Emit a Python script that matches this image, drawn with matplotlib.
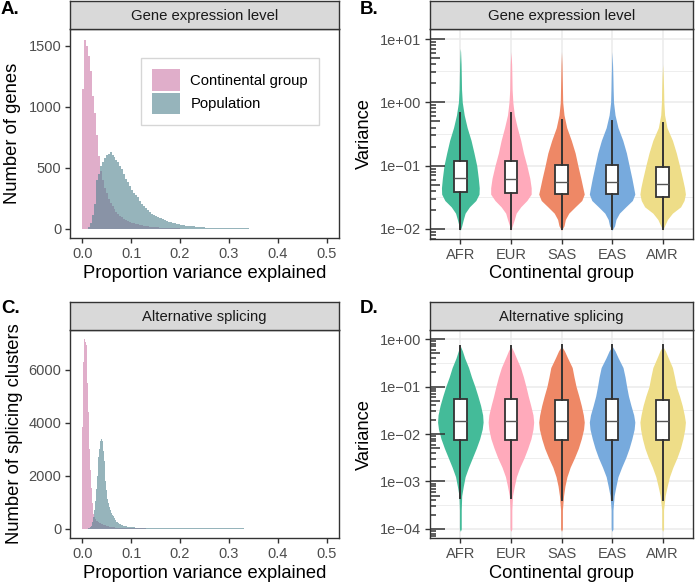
import numpy as np
import matplotlib
matplotlib.use("Agg")
import matplotlib.pyplot as plt
from matplotlib.patches import Patch
from matplotlib.transforms import blended_transform_factory

plt.rcParams['font.family'] = ['Liberation Sans', 'DejaVu Sans']

# ---------------- data ----------------
# histograms: fine bins at the start, coarser bins for the long flat tail
ge_bw, ge_tail_start, ge_tail_bw = 0.004, 0.2, 0.01
ge_group = [1150, 1550, 1500, 1420, 1290, 1090, 950, 770, 600, 470,
            400, 335, 290, 248, 215, 187, 160, 140, 122, 106,
            93, 81, 71, 62, 55, 50, 44, 40, 36, 32,
            28, 25, 22, 20, 18, 16, 14, 12, 11, 10,
            9, 8, 7, 6, 5, 5, 4, 4, 3, 3]
ge_group_tail = [2, 2, 1, 1, 1, 1, 1, 0, 0, 0, 0, 0, 0, 0, 0,
                 0, 0, 0, 0, 0, 0, 0, 0, 0, 0, 0, 0, 0, 0]
ge_pop = [0, 0, 2, 12, 45, 115, 205, 400, 450, 515,
          550, 578, 602, 615, 632, 603, 592, 568, 548, 512,
          492, 452, 408, 386, 348, 318, 292, 280, 262, 226,
          205, 186, 168, 154, 138, 124, 114, 102, 95, 90,
          85, 78, 70, 62, 57, 54, 50, 46, 42, 37]
ge_pop_tail = [30, 24, 19, 15, 12, 10, 8, 7, 6, 5, 4, 4, 3, 3, 2,
               2, 2, 2, 1, 1, 1, 1, 1, 1, 1, 1, 1, 1, 0]

as_bw, as_tail_start, as_tail_bw = 0.002, 0.12, 0.01
as_group = [3850, 6300, 7150, 7050, 6950, 5500, 4400, 3000, 2200, 1550,
            950, 560, 420, 350, 300, 270, 245, 222, 200, 180,
            160, 145, 130, 118, 105, 95, 85, 76, 68, 60,
            53, 47, 42, 37, 33, 29, 26, 23, 20, 18,
            16, 14, 12, 11, 10, 9, 8, 7, 6, 6,
            5, 5, 4, 4, 3, 3, 3, 2, 2, 2]
as_group_tail = [2, 1, 1, 1, 0, 0, 0, 0, 0, 0, 0, 0, 0, 0, 0, 0, 0,
                 0, 0, 0, 0, 0, 0, 0, 0, 0, 0, 0, 0, 0, 0, 0, 0, 0]
as_pop = [0, 0, 0, 0, 0, 0, 2, 10, 40, 110,
          230, 420, 700, 1050, 1500, 2000, 2700, 3000, 3320, 3380,
          3300, 2950, 2550, 1800, 1450, 1100, 950, 800, 690, 600,
          530, 460, 400, 350, 305, 265, 230, 200, 178, 158,
          140, 125, 112, 100, 90, 82, 75, 68, 62, 57,
          52, 48, 44, 41, 38, 35, 33, 31, 29, 27]
as_pop_tail = [24, 20, 17, 14, 12, 10, 9, 8, 7, 6, 5, 5, 4, 4, 3, 3, 3,
               2, 2, 2, 2, 1, 1, 1, 1, 1, 1, 1, 1, 1, 1, 1, 0, 0]

groups = ['AFR', 'EUR', 'SAS', 'EAS', 'AMR']
group_colors = ['#44BB99', '#FFAABB', '#EE8866', '#77AADD', '#EEDD88']

# violin outlines: log10(variance) levels and relative density (1 = widest violin)
ge_levels = [-2.02, -1.95, -1.85, -1.75, -1.65, -1.55, -1.45, -1.35, -1.2, -1.0,
             -0.8, -0.6, -0.4, -0.2, 0.0, 0.2, 0.4, 0.6, 0.8, 0.85]
ge_dens = {
    'AFR': [0, 0.06, 0.13, 0.21, 0.40, 0.68, 0.82, 0.83, 0.79, 0.72,
            0.60, 0.47, 0.30, 0.17, 0.085, 0.053, 0.043, 0.032, 0.011, 0],
    'EUR': [0, 0.06, 0.15, 0.23, 0.43, 0.70, 0.89, 0.89, 0.83, 0.70,
            0.55, 0.43, 0.28, 0.15, 0.085, 0.053, 0.043, 0.032, 0, 0],
    'SAS': [0, 0.11, 0.17, 0.32, 0.60, 0.89, 1.0, 0.94, 0.85, 0.72,
            0.60, 0.43, 0.23, 0.11, 0.053, 0.043, 0.032, 0.021, 0, 0],
    'EAS': [0, 0.11, 0.17, 0.32, 0.60, 0.89, 1.0, 0.95, 0.87, 0.75,
            0.63, 0.47, 0.26, 0.13, 0.064, 0.047, 0.036, 0.021, 0, 0],
    'AMR': [0, 0.085, 0.21, 0.43, 0.79, 0.94, 1.0, 0.96, 0.87, 0.74,
            0.60, 0.43, 0.19, 0.085, 0.053, 0.043, 0.026, 0, 0, 0],
}
as_levels = [-4.05, -4.0, -3.6, -3.3, -3.1, -2.9, -2.7, -2.5, -2.3, -2.1, -1.9,
             -1.75, -1.6, -1.4, -1.2, -1.0, -0.8, -0.6, -0.4, -0.25, -0.15]
as_dens = {
    'AFR': [0, 0.04, 0.04, 0.06, 0.13, 0.21, 0.36, 0.53, 0.70, 0.85, 0.96,
            1.0, 0.98, 0.89, 0.77, 0.64, 0.49, 0.36, 0.19, 0.09, 0],
    'EUR': [0, 0.04, 0.04, 0.07, 0.15, 0.24, 0.39, 0.58, 0.74, 0.88, 0.97,
            1.0, 0.97, 0.87, 0.76, 0.66, 0.55, 0.42, 0.24, 0.11, 0],
    'SAS': [0, 0.04, 0.04, 0.09, 0.15, 0.24, 0.38, 0.57, 0.74, 0.87, 0.97,
            1.0, 0.96, 0.87, 0.76, 0.64, 0.55, 0.47, 0.27, 0.13, 0],
    'EAS': [0, 0.04, 0.04, 0.09, 0.17, 0.26, 0.42, 0.60, 0.75, 0.87, 0.97,
            1.0, 0.95, 0.83, 0.72, 0.64, 0.57, 0.48, 0.27, 0.13, 0],
    'AMR': [0, 0.04, 0.04, 0.11, 0.20, 0.30, 0.45, 0.63, 0.78, 0.89, 0.97,
            1.0, 0.95, 0.86, 0.74, 0.60, 0.52, 0.43, 0.25, 0.12, 0],
}

# box stats: whisker low, q1, median, q3, whisker high
ge_box = {'AFR': [0.0099, 0.039, 0.063, 0.120, 0.67],
          'EUR': [0.0099, 0.037, 0.062, 0.120, 0.67],
          'SAS': [0.0099, 0.036, 0.055, 0.103, 0.53],
          'EAS': [0.0099, 0.036, 0.055, 0.103, 0.50],
          'AMR': [0.0099, 0.032, 0.052, 0.096, 0.48]}
as_box = {'AFR': [4.4e-4, 0.0075, 0.019, 0.054, 0.70],
          'EUR': [4.4e-4, 0.0075, 0.019, 0.054, 0.71],
          'SAS': [4.1e-4, 0.0075, 0.019, 0.052, 0.74],
          'EAS': [4.1e-4, 0.0076, 0.019, 0.054, 0.74],
          'AMR': [4.1e-4, 0.0075, 0.019, 0.052, 0.74]}

col_group = '#CC79A7'
col_pop = '#50828F'
dark = '#333333'
tick_col = '#4D4D4D'

W, H = 700, 583
fig = plt.figure(figsize=(W / 100, H / 100), dpi=100)


def px_axes(x0, y0, x1, y1):
    return fig.add_axes([x0 / W, 1 - y1 / H, (x1 - x0) / W, (y1 - y0) / H])


def strip(x0, y0, x1, y1, text):
    s = px_axes(x0, y0, x1, y1)
    s.set_facecolor('#D9D9D9')
    s.set_xticks([])
    s.set_yticks([])
    for sp in s.spines.values():
        sp.set_color(dark)
        sp.set_linewidth(1.0)
    s.text(0.5, 0.47, text, ha='center', va='center', fontsize=10.7, color='#1A1A1A')


def style(ax):
    for sp in ax.spines.values():
        sp.set_color(dark)
        sp.set_linewidth(1.0)
    ax.tick_params(length=3.8, width=1.0, color=dark, labelsize=10.5, labelcolor=tick_col, pad=2.5)


def hist_panel(ax, grp, grp_tail, pop, pop_tail, bw, tstart, tbw, ymax, yticks, ylabel):
    e_head = np.arange(len(grp) + 1) * bw
    e_tail = tstart + np.arange(len(grp_tail) + 1) * tbw
    ax.stairs(grp, e_head, fill=True, color=col_group, alpha=0.6, linewidth=0)
    ax.stairs(grp_tail, e_tail, fill=True, color=col_group, alpha=0.6, linewidth=0)
    ax.stairs(pop, e_head, fill=True, color=col_pop, alpha=0.6, linewidth=0)
    ax.stairs(pop_tail, e_tail, fill=True, color=col_pop, alpha=0.6, linewidth=0)
    ax.set_xlim(-0.025, 0.525)
    ax.set_ylim(-0.05 * ymax, 1.05 * ymax)
    ax.set_xticks([0, 0.1, 0.2, 0.3, 0.4, 0.5])
    ax.set_xticklabels(['0.0', '0.1', '0.2', '0.3', '0.4', '0.5'])
    ax.set_yticks(yticks)
    style(ax)
    ax.set_xlabel('Proportion variance explained', fontsize=13.2)
    ax.set_ylabel(ylabel, fontsize=13.2)


def log_label(k):
    sign = '+' if k >= 0 else '\u2212'
    return '1e%s%02d' % (sign, abs(k))


def violin_panel(ax, levels, dens, box, lo, hi, decades):
    pos = np.arange(1, len(groups) + 1)
    ax.set_yscale('log')
    ax.set_xlim(0.4, 5.6)
    ax.set_ylim(10 ** lo, 10 ** hi)
    # grid
    for k in decades:
        ax.axhline(10.0 ** k, color='#EBEBEB', lw=1.1, zorder=0)
    for k in range(decades[0] - 1, decades[-1] + 1):
        ax.axhline(10.0 ** (k + 0.5), color='#EBEBEB', lw=0.6, zorder=0)
    for p in pos:
        ax.axvline(p, color='#EBEBEB', lw=1.1, zorder=0)
    yv = 10.0 ** np.array(levels)
    for p, g, c in zip(pos, groups, group_colors):
        half = np.array(dens[g]) * 0.9 / 2
        ax.fill_betweenx(yv, p - half, p + half, color=c, linewidth=0, zorder=2)
    stats = [dict(whislo=box[g][0], q1=box[g][1], med=box[g][2], q3=box[g][3], whishi=box[g][4])
             for g in groups]
    ax.bxp(stats, positions=pos, widths=0.25, showfliers=False, showcaps=False,
           patch_artist=True, manage_ticks=False,
           boxprops=dict(facecolor='white', edgecolor=dark, linewidth=1.3),
           whiskerprops=dict(color=dark, linewidth=1.4),
           medianprops=dict(color='#555555', linewidth=1.0), zorder=3)
    ax.set_xticks(pos)
    ax.set_xticklabels(groups)
    ax.set_yticks([10.0 ** k for k in decades])
    ax.set_yticklabels([log_label(k) for k in decades])
    ax.yaxis.set_minor_locator(matplotlib.ticker.NullLocator())
    style(ax)
    # log ticks inside the panel
    trans = blended_transform_factory(ax.transAxes, ax.transData)
    wpx = ax.get_position().width * W
    for k in range(decades[0] - 1, decades[-1] + 1):
        for m in range(1, 10):
            v = m * 10.0 ** k
            if v < 10 ** lo or v > 10 ** hi:
                continue
            L = 15 if m == 1 else (10 if m == 5 else 6)
            ax.plot([0, L / wpx], [v, v], color=dark, lw=1.1, transform=trans,
                    clip_on=False, zorder=4, solid_capstyle='butt')
    ax.set_xlabel('Continental group', fontsize=13.2)
    ax.set_ylabel('Variance', fontsize=13.2)


# ---------------- A ----------------
axA = px_axes(70, 29, 339, 238.3)
hist_panel(axA, ge_group, ge_group_tail, ge_pop, ge_pop_tail, ge_bw, ge_tail_start, ge_tail_bw,
           1560, [0, 500, 1000, 1500], 'Number of genes')
axA.xaxis.set_label_coords(0.5, -0.128)
axA.yaxis.set_label_coords(-0.182, 0.5)
strip(70, 1, 339, 29, 'Gene expression level')
handles = [Patch(facecolor=col_group, alpha=0.6, linewidth=0),
           Patch(facecolor=col_pop, alpha=0.6, linewidth=0)]
leg = axA.legend(handles, ['Continental group', 'Population'], loc='upper right',
                 bbox_to_anchor=(0.926, 0.862), fontsize=10.7, frameon=True, fancybox=False,
                 handlelength=1.85, handleheight=1.85, labelspacing=0.15, borderpad=0.75,
                 handletextpad=0.7, borderaxespad=0)
leg.get_frame().set_edgecolor('#CCCCCC')
leg.get_frame().set_linewidth(1.0)

# ---------------- B ----------------
axB = px_axes(430, 29, 693, 239)
violin_panel(axB, ge_levels, ge_dens, ge_box, -2.158, 1.158, [-2, -1, 0, 1])
axB.xaxis.set_label_coords(0.5, -0.124)
axB.yaxis.set_label_coords(-0.217, 0.5)
strip(430, 1, 693, 29, 'Gene expression level')

# ---------------- C ----------------
axC = px_axes(70, 330, 339, 538)
hist_panel(axC, as_group, as_group_tail, as_pop, as_pop_tail, as_bw, as_tail_start, as_tail_bw,
           7150, [0, 2000, 4000, 6000], 'Number of splicing clusters')
axC.xaxis.set_label_coords(0.5, -0.13)
axC.yaxis.set_label_coords(-0.175, 0.5)
strip(70, 302, 339, 330, 'Alternative splicing')

# ---------------- D ----------------
axD = px_axes(430, 330, 693, 538)
violin_panel(axD, as_levels, as_dens, as_box, -4.19, 0.19, [-4, -3, -2, -1, 0])
axD.xaxis.set_label_coords(0.5, -0.13)
axD.yaxis.set_label_coords(-0.217, 0.5)
strip(430, 302, 693, 330, 'Alternative splicing')

# panel letters
for lab, x, y in [('A.', 1, 1), ('B.', 360, 1), ('C.', 1, 300), ('D.', 360, 300)]:
    fig.text(x / W, 1 - y / H, lab, fontsize=13.5, fontweight='bold', ha='left', va='top')

fig.savefig('out.png', dpi=100)
